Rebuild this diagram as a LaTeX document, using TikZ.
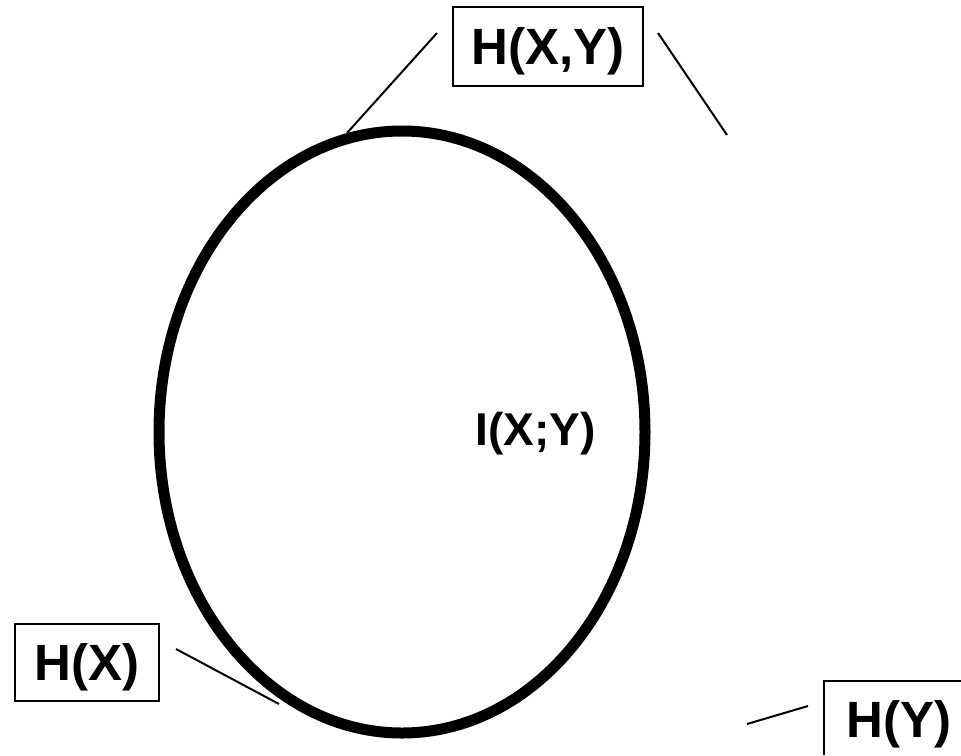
\documentclass[tikz,border=0pt]{standalone}
\usepackage{fontspec}
\setmainfont{Liberation Sans}
\begin{document}
\begin{tikzpicture}[x=1pt,y=-1pt,
  lbl/.style={draw=black,line width=1.7pt,inner sep=0pt,
    font=\bfseries\fontsize{51}{51}\selectfont,
    text height=36.5pt,text depth=0pt},
  conn/.style={line width=2pt,black},
  bigring/.style={line width=11pt,black}]
\useasboundingbox (0,0) rectangle (961,755);
\fill[white] (0,0) rectangle (961,755);
\coordinate (edge) at (962,755);
% ellipse
\draw[bigring] (402,432) ellipse [x radius=243pt, y radius=301pt];
% labels
\node[lbl,minimum width=190pt,minimum height=79pt] (hxy) at (548,46.5) {H(X,Y)};
\node[lbl,minimum width=144pt,minimum height=77pt] (hx) at (87,662.5) {H(X)};
\node[lbl,draw=none,anchor=north west,minimum height=74pt,inner xsep=22pt,
  text width=90pt,align=left] (hy) at (824,681) {H(Y)};
\draw[line width=1.7pt] (hy.south west |- edge) -- (hy.north west) -- (hy.north west -| edge);
\node[inner sep=0pt,font=\bfseries\fontsize{46}{46}\selectfont,
  text height=33pt,text depth=0pt] (ixy) at (535.5,428.5) {I(X;Y)};
% connector ends
\coordinate (a1) at (437,33);  \coordinate (a2) at (347,133);
\coordinate (b1) at (658,33);  \coordinate (b2) at (727,135);
\coordinate (c1) at (176,649); \coordinate (c2) at (279,704);
\coordinate (d1) at (747,724); \coordinate (d2) at (808,706);
\draw[conn] (a1) -- (a2);
\draw[conn] (b1) -- (b2);
\draw[conn] (c1) -- (c2);
\draw[conn] (d1) -- (d2);
\end{tikzpicture}
\end{document}
